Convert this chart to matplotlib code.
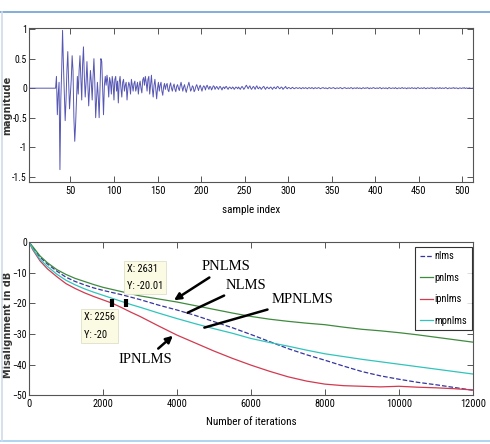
import matplotlib
matplotlib.use('Agg')
import matplotlib.pyplot as plt
from matplotlib import font_manager
from matplotlib.lines import Line2D
import numpy as np

installed = set(f.name for f in font_manager.fontManager.ttflist)
narrow_choices = ['Liberation Sans Narrow', 'DejaVu Sans Condensed',
                  'Roboto Condensed', 'Open Sans Condensed', 'Arial Narrow']
narrow = [f for f in narrow_choices if f in installed][:1] or ['DejaVu Sans']

# impulse response (samples 1..512)
h_lead = [0.0] * 32
h_early = [
    0.0, 0.2, -0.45, -0.1, 0.1, -1.38, -0.2, 0.3, 0.98, 0.4,
    -0.1, -0.55, -0.2, 0.3, 0.62, 0.1, -0.35, -0.1, 0.15, 0.55,
    0.3, -0.5, -0.9, -0.6, -0.2, 0.2, -0.1, 0.3, 0.55, 0.15,
    -0.2, 0.4, 0.7, 0.2, -0.15, 0.1, 0.45, 0.05, -0.3, 0.0,
    0.3, 0.1, -0.2, 0.2, 0.5, 0.1, -0.5, -0.2, 0.1, -0.15,
    -0.5, 0.0, 0.5, 0.45, 0.0, -0.45, 0.05, 0.2, 0.05, 0.22,
    0.1, -0.15, 0.18, 0.1, -0.1, 0.2, 0.08, -0.2, 0.15, 0.2,
    -0.05, 0.12, -0.25, 0.1, 0.2, 0.0, -0.15, 0.1, 0.15, -0.05,
    0.05, 0.1, -0.2, 0.0, 0.1, 0.05, -0.1, 0.15, 0.05, -0.05,
    0.08, 0.12, -0.05, 0.02, 0.1, -0.1, 0.05, 0.12, 0.0, -0.08,
    0.14, 0.18, 0.05, 0.2, 0.1, -0.05, 0.15, 0.2, -0.1, 0.05,
    0.22, 0.0, -0.15, 0.05, 0.15, -0.02, -0.18, 0.0, 0.1, -0.05,
    0.05, 0.1, -0.05, -0.12, 0.02, 0.08, -0.02, 0.05, 0.08, -0.03,
    -0.06, 0.04, 0.09, 0.0, -0.05, 0.03, 0.07, -0.02, -0.06, 0.03,
    0.06, 0.0, -0.04, 0.04, 0.1, 0.02, -0.05, 0.02,
]
h_mid = [
    0.06, -0.02, -0.07, 0.0, 0.05, 0.1, 0.03, -0.05, -0.02, 0.04,
    0.02, -0.06, -0.03, 0.03, 0.06, 0.01, -0.04, 0.02, 0.05, 0.0,
    -0.05, 0.01, 0.04, 0.02, -0.03, 0.03, 0.05, 0.01, -0.02, 0.03,
    0.02, -0.03, 0.0, 0.04, 0.03, -0.02, 0.01, 0.03, 0.0, -0.02,
    0.02, 0.03, 0.0, -0.03, 0.01, 0.02, -0.01, 0.02, 0.03, 0.0,
    -0.02, 0.01, 0.02, 0.0, -0.01, 0.02, 0.01, -0.02, 0.0, 0.02,
    0.01, -0.01, 0.02, 0.0, -0.02, 0.01, 0.03, 0.01, -0.02, 0.0,
    0.03, 0.05, 0.02, -0.01, 0.02, 0.04, 0.0, -0.02, 0.01, 0.03,
    0.01, -0.02, 0.02, 0.04, 0.0, -0.01, 0.02, 0.01, -0.02, 0.0,
    0.02, 0.03, 0.0, -0.02, 0.01, 0.02, 0.0, -0.01, 0.01, 0.02,
    0.0, -0.02, 0.01, 0.02, 0.0, -0.01, 0.02, 0.03, 0.01, -0.01,
    0.0, 0.02, 0.01, -0.02, 0.0, 0.01, 0.03, 0.0, -0.01, 0.01,
]
h_tail = [
    0.01, 0.0, -0.01, 0.005, 0.015, 0.0, -0.01, 0.0, 0.01, 0.005,
    -0.005, 0.0, 0.01, 0.0, -0.01, 0.005, 0.01, -0.005, 0.0, 0.01,
    0.0, -0.01, 0.005, 0.01, 0.0, -0.005, 0.01, 0.005, -0.01, 0.0,
    0.01, 0.0, -0.005, 0.005, 0.01, 0.0, -0.01, 0.0, 0.005, 0.01,
    0.0, -0.005, 0.005, 0.0, -0.01, 0.0, 0.01, 0.005, -0.005, 0.0,
    0.005, 0.01, 0.0, -0.01, 0.0, 0.005, 0.0, -0.005, 0.005, 0.01,
    0.0, -0.01, 0.0, 0.005, 0.01, 0.0, -0.005, 0.0, 0.005, -0.005,
    0.0, 0.01, 0.005, -0.01, 0.0, 0.005, 0.0, -0.005, 0.01, 0.0,
    -0.005, 0.005, 0.0, -0.01, 0.0, 0.01, 0.0, -0.005, 0.005, 0.0,
    0.01, 0.0, -0.01, 0.005, 0.0, -0.005, 0.005, 0.01, 0.0, -0.005,
    0.0, 0.005, -0.005, 0.0, 0.01, 0.005, -0.01, 0.0, 0.005, 0.0,
    -0.005, 0.005, 0.0, -0.01, 0.005, 0.01, 0.0, -0.005, 0.0, 0.005,
    0.0, -0.005, 0.01, 0.0, -0.01, 0.0, 0.005, 0.0, -0.005, 0.005,
    0.01, -0.005, 0.0, 0.005, 0.0, -0.01, 0.005, 0.0, 0.005, -0.005,
    0.0, 0.01, 0.0, -0.005, 0.005, 0.0, -0.01, 0.005, 0.01, 0.0,
    -0.005, 0.0, 0.005, -0.005, 0.0, 0.01, 0.0, -0.01, 0.0, 0.005,
    0.0, -0.005, 0.005, 0.0, 0.01, -0.005, 0.0, 0.005, -0.01, 0.0,
    0.005, 0.0, -0.005, 0.01, 0.0, -0.005, 0.005, 0.0, -0.005, 0.005,
    0.01, 0.0, -0.01, 0.0, 0.005, 0.0, -0.005, 0.005, 0.0, 0.01,
    -0.005, 0.0, 0.005, 0.0, -0.01, 0.0, 0.005, 0.0, -0.005, 0.005,
    0.0, 0.01, -0.005, 0.0, 0.005, -0.005, 0.0, 0.005, 0.0, -0.005,
    0.0, 0.0,
]
h = np.array(h_lead + h_early + h_mid + h_tail)
samples = np.arange(1, len(h) + 1)

# misalignment curves (dB) vs iteration
iters = [0, 100, 300, 500, 750, 1000, 1250, 1500, 1750, 2000, 2250, 2500,
         2750, 3000, 3500, 4000, 4500, 5000, 5500, 6000, 6500, 7000, 7500,
         8000, 8500, 9000, 9500, 10000, 10500, 11000, 11500, 12000]
nlms = [0, -1.8, -5.0, -7.2, -9.5, -11.5, -12.9, -14.0, -15.0, -15.8, -16.5,
        -17.2, -18.0, -18.8, -20.6, -22.2, -24.0, -26.0, -28.0, -30.2, -32.5,
        -34.8, -36.8, -38.6, -40.5, -42.3, -43.7, -44.8, -45.8, -46.6, -47.5, -48.4]
pnlms = [0, -1.5, -4.6, -6.8, -9.0, -10.6, -11.9, -12.9, -13.9, -14.8, -15.5,
         -16.2, -16.9, -17.6, -18.6, -19.6, -20.8, -22.0, -23.2, -24.3, -25.2,
         -25.9, -26.5, -27.0, -27.8, -28.5, -29.0, -29.6, -30.3, -31.1, -31.9, -32.7]
ipnlms = [0, -2.5, -6.2, -8.8, -11.3, -13.6, -15.2, -16.6, -17.8, -18.9, -20.0,
          -21.4, -22.9, -24.3, -27.4, -30.4, -33.0, -35.6, -38.0, -40.2, -42.2,
          -44.0, -45.4, -46.4, -46.9, -47.1, -47.3, -47.1, -47.4, -47.6, -47.9, -48.3]
mpnlms = [0, -2.2, -5.7, -8.0, -10.5, -12.5, -14.0, -15.3, -16.4, -17.4, -18.4,
          -19.4, -20.4, -21.3, -23.2, -25.0, -26.7, -28.3, -29.8, -31.5, -32.8,
          -34.0, -35.3, -36.5, -37.4, -38.3, -39.1, -39.9, -40.7, -41.5, -42.3, -43.1]

fig = plt.figure(figsize=(4.9, 4.44), dpi=100)

def style_axes(ax):
    for s in ax.spines.values():
        s.set_color('#555555')
        s.set_linewidth(0.8)
    ax.tick_params(direction='in', top=True, right=True, length=4,
                   width=0.7, color='#555555', labelsize=7.5, pad=3)
    ax.tick_params(axis='y', pad=1.5, labelsize=7)
    for lab in ax.get_xticklabels() + ax.get_yticklabels():
        lab.set_family(narrow)

# top: impulse response
ax1 = fig.add_axes([0.0592, 0.590, 0.906, 0.347])
ax1.plot(samples, h, color='#5656b4', lw=0.7)
ax1.set_xlim(2.5, 512)
ax1.set_ylim(-1.59, 1.02)
ax1.set_xticks(np.arange(50, 501, 50))
ax1.set_yticks([-1.5, -1, -0.5, 0, 0.5, 1])
ax1.set_yticklabels(['-1.5', '-1', '-0.5', '0', '0.5', '1'])
style_axes(ax1)
ax1.set_xlabel('sample index', family=narrow, fontsize=8)
ax1.set_ylabel('magnitude', fontsize=7, fontweight='bold', color='#333333')
ax1.xaxis.set_label_coords(0.5, -0.15)
ax1.yaxis.set_label_coords(-0.037, 0.5)

# bottom: misalignment
ax2 = fig.add_axes([0.0592, 0.110, 0.906, 0.345])
ax2.plot(iters, nlms, '--', color='#35359e', lw=0.9, label='nlms')
ax2.plot(iters, pnlms, color='#3f8a3f', lw=0.9, label='pnlms')
ax2.plot(iters, ipnlms, color='#d23a50', lw=0.9, label='ipnlms')
ax2.plot(iters, mpnlms, color='#30c4bc', lw=0.9, label='mpnlms')
ax2.set_xlim(0, 12000)
ax2.set_ylim(-50, 0)
ax2.set_xticks(np.arange(0, 12001, 2000))
ax2.set_yticks(np.arange(-50, 1, 10))
style_axes(ax2)
ax2.set_xlabel('Number of iterations', family=narrow, fontsize=8)
ax2.set_ylabel('Misalignment in dB', fontsize=7, fontweight='bold',
               color='#333333')
ax2.xaxis.set_label_coords(0.5, -0.145)
ax2.yaxis.set_label_coords(-0.037, 0.46)

leg = ax2.legend(loc='upper right', bbox_to_anchor=(0.998, 0.97),
                 borderaxespad=0, fancybox=False, edgecolor='black',
                 handlelength=1.3, handletextpad=0.15, labelspacing=1.1,
                 borderpad=0.45, prop={'family': narrow, 'size': 7.5})
leg.get_frame().set_linewidth(0.8)

# data tips
ax2.plot([2256, 2631], [-20, -20.01], ls='none', marker='|', color='black',
         ms=6, mew=3)
tip = dict(boxstyle='square,pad=0.3', fc='#fbfbe4', ec='#e0e0c8', lw=0.6)
ax2.text(2640, -11.6, 'X: 2631\nY: -20.01', family=narrow, fontsize=7.5,
         va='center', ha='left', bbox=tip, linespacing=1.9)
ax2.text(1480, -27.5, 'X: 2256\nY: -20', family=narrow, fontsize=7.5,
         va='center', ha='left', bbox=tip, linespacing=2.0)

# curve labels with arrows
ser = ['Liberation Serif', 'DejaVu Serif']
arr = dict(arrowstyle='-|>', color='black', lw=1.8, mutation_scale=10)
line = dict(arrowstyle='-', color='black', lw=1.8)
ax2.annotate('PNLMS', xy=(3856, -19.5), xytext=(4668, -10.2),
             arrowprops=arr, family=ser, fontsize=10.5, ha='left', va='bottom')
ax2.annotate('NLMS', xy=(4216, -23.5), xytext=(5324, -16.2),
             arrowprops=line, family=ser, fontsize=10.5, ha='left', va='bottom')
ax2.annotate('MPNLMS', xy=(4668, -28.2), xytext=(6559, -20.9),
             arrowprops=line, family=ser, fontsize=10.5, ha='left', va='bottom')
ax2.annotate('IPNLMS', xy=(3946, -30.0), xytext=(3150, -36.3),
             arrowprops=arr, family=ser, fontsize=10.5, ha='center', va='top')

# page frame
fig.add_artist(Line2D([0, 1], [1 - 12.5 / 444] * 2, color='#6e9fd2', lw=1.2))
fig.add_artist(Line2D([0, 1], [1 - 440.5 / 444] * 2, color='#a2cdee', lw=1.2))
fig.add_artist(Line2D([2 / 490] * 2, [1 - 440.5 / 444, 1 - 12.5 / 444],
                      color='#cfdcea', lw=1.2))

fig.savefig('out.png', dpi=100)
